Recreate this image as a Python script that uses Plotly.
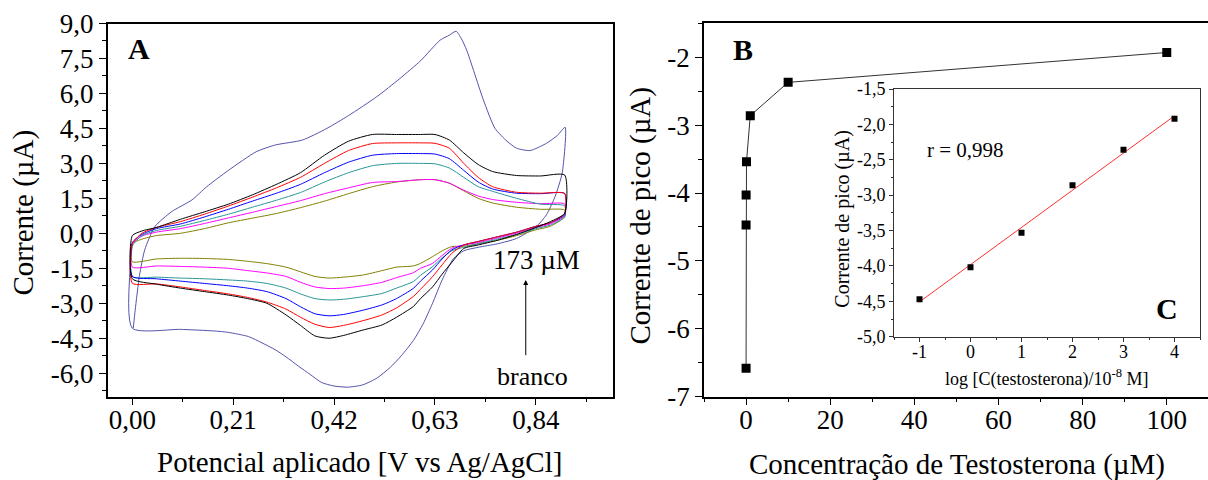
import numpy as np
import plotly.graph_objects as go

# ---------------- Panel A : cyclic voltammograms ----------------
E_fwd = [0, 0.02, 0.05, 0.1, 0.15, 0.2, 0.25, 0.3, 0.35, 0.4, 0.45, 0.5, 0.55,
         0.6, 0.63, 0.66, 0.69, 0.72, 0.75, 0.8, 0.85, 0.9]
E_rev = [0.9, 0.87, 0.84, 0.8, 0.76, 0.72, 0.69, 0.665, 0.645, 0.625, 0.6, 0.585,
         0.55, 0.52, 0.48, 0.44, 0.41, 0.38, 0.35, 0.32, 0.28, 0.24, 0.2, 0.15,
         0.1, 0.05, 0.0]

black_fwd = [-0.1, 0.1, 0.25, 0.6, 0.92, 1.25, 1.65, 2.1, 2.6, 3.35, 3.95, 4.24,
             4.24, 4.24, 4.24, 4.0, 3.45, 2.95, 2.65, 2.48, 2.46, 2.5]
black_rev = [0.86, 0.5, 0.25, -0.05, -0.3, -0.5, -0.65, -1.25, -1.75, -2.3, -2.8,
             -3.14, -3.6, -3.93, -4.15, -4.38, -4.5, -4.4, -3.95, -3.5, -3.0,
             -2.8, -2.65, -2.5, -2.35, -2.18, -1.95]
red_fwd = [-0.45, 0.0, 0.25, 0.5, 0.82, 1.17, 1.55, 1.95, 2.4, 3.0, 3.55, 3.85,
           3.88, 3.88, 3.86, 3.65, 3.0, 2.4, 2.0, 1.76, 1.72, 1.71]
red_rev = [0.85, 0.45, 0.3, 0.05, -0.15, -0.35, -0.5, -0.86, -1.35, -1.86, -2.4,
           -2.71, -3.2, -3.5, -3.75, -3.95, -4.04, -3.9, -3.6, -3.25, -2.95,
           -2.75, -2.6, -2.45, -2.3, -2.17, -2.14]
blue_fwd = [-0.4, -0.05, 0.2, 0.4, 0.7, 1.03, 1.38, 1.72, 2.1, 2.6, 3.05, 3.35,
            3.42, 3.42, 3.4, 3.2, 2.7, 2.2, 1.9, 1.72, 1.7, 1.71]
blue_rev = [0.8, 0.45, 0.3, 0.05, -0.15, -0.35, -0.5, -0.71, -1.1, -1.57, -2.05,
            -2.36, -2.8, -3.07, -3.3, -3.48, -3.54, -3.45, -3.15, -2.8, -2.5,
            -2.35, -2.25, -2.15, -2.05, -1.95, -1.85]
teal_fwd = [-0.55, -0.1, 0.12, 0.3, 0.55, 0.82, 1.12, 1.42, 1.75, 2.2, 2.6, 2.9,
            3.0, 3.0, 2.98, 2.8, 2.4, 2.0, 1.8, 1.5, 1.25, 1.18]
teal_rev = [0.7, 0.35, 0.2, -0.05, -0.25, -0.45, -0.6, -0.75, -1.05, -1.43, -1.8,
            -2.07, -2.35, -2.58, -2.72, -2.83, -2.86, -2.8, -2.6, -2.35, -2.15,
            -2.05, -2.0, -1.95, -1.92, -1.88, -1.86]
magenta_fwd = [-0.45, -0.12, 0.05, 0.2, 0.42, 0.66, 0.9, 1.15, 1.4, 1.7, 1.95,
               2.18, 2.22, 2.3, 2.3, 2.15, 1.85, 1.6, 1.45, 1.33, 1.27, 1.26]
magenta_rev = [0.75, 0.4, 0.25, 0.0, -0.2, -0.4, -0.5, -0.64, -0.95, -1.29, -1.5,
               -1.69, -1.9, -2.1, -2.25, -2.35, -2.37, -2.3, -2.1, -1.85, -1.7,
               -1.6, -1.5, -1.45, -1.42, -1.4, -1.45]
olive_fwd = [-0.45, -0.25, -0.1, 0.0, 0.2, 0.45, 0.65, 0.85, 1.1, 1.38, 1.7, 2.0,
             2.2, 2.3, 2.3, 2.15, 1.82, 1.5, 1.3, 1.12, 1.03, 1.0]
olive_rev = [0.7, 0.3, 0.15, -0.1, -0.3, -0.45, -0.55, -0.57, -0.75, -1.0, -1.29,
             -1.4, -1.45, -1.6, -1.79, -1.88, -1.92, -1.85, -1.65, -1.45, -1.3,
             -1.2, -1.12, -1.08, -1.07, -1.1, -1.22]

E_big_fwd = [0.002, 0.006, 0.015, 0.026, 0.047, 0.082, 0.124, 0.155, 0.2, 0.258,
             0.298, 0.354, 0.405, 0.45, 0.509, 0.557, 0.6, 0.641, 0.66, 0.674,
             0.685, 0.696, 0.731, 0.755, 0.78, 0.8, 0.828, 0.862, 0.885, 0.901]
I_big_fwd = [-4.07, -3.3, -1.8, -0.7, 0.29, 0.93, 1.43, 2.0, 2.7, 3.5, 3.79, 4.0,
             4.5, 5.05, 5.86, 6.64, 7.4, 8.29, 8.5, 8.67, 8.35, 7.86, 5.71, 4.5,
             3.95, 3.65, 3.55, 3.86, 4.2, 4.55]
E_big_rev = [0.895, 0.88, 0.862, 0.841, 0.8, 0.76, 0.72, 0.69, 0.668, 0.645,
             0.625, 0.605, 0.585, 0.56, 0.537, 0.51, 0.48, 0.449, 0.42, 0.394,
             0.37, 0.346, 0.32, 0.298, 0.27, 0.242, 0.2, 0.171, 0.1, 0.0, 0.0]
I_big_rev = [2.6, 1.57, 0.79, 0.29, -0.22, -0.45, -0.6, -0.75, -1.1, -2.0, -3.0,
             -3.9, -4.6, -5.25, -5.75, -6.2, -6.5, -6.6, -6.55, -6.4, -6.05, -5.7,
             -5.3, -5.0, -4.7, -4.43, -4.25, -4.19, -4.12, -4.07, -0.43]

A_xtick_vals = [0, 0.21, 0.42, 0.63, 0.84]
A_xtick_text = ["0,00", "0,21", "0,42", "0,63", "0,84"]
A_ytick_vals = [9, 7.5, 6, 4.5, 3, 1.5, 0, -1.5, -3, -4.5, -6]
A_ytick_text = ["9,0", "7,5", "6,0", "4,5", "3,0", "1,5", "0,0", "-1,5", "-3,0",
                "-4,5", "-6,0"]

# ---------------- Panel B : peak current vs concentration ----------------
conc_uM = [0, 0.001, 0.01, 0.1, 1, 10, 100]
ipeak_B = [-6.58, -4.47, -4.03, -3.54, -2.86, -2.37, -1.93]
B_xtick_vals = [0, 20, 40, 60, 80, 100]
B_xtick_text = ["0", "20", "40", "60", "80", "100"]
B_ytick_vals = [-2, -3, -4, -5, -6, -7]
B_ytick_text = ["-2", "-3", "-4", "-5", "-6", "-7"]

# ---------------- Panel C : calibration (inset) ----------------
logC = [-1, 0, 1, 2, 3, 4]
ipeak_C = [-4.47, -4.02, -3.53, -2.86, -2.36, -1.92]
C_xtick_vals = [-1, 0, 1, 2, 3, 4]
C_xtick_text = ["-1", "0", "1", "2", "3", "4"]
C_ytick_vals = [-1.5, -2.0, -2.5, -3.0, -3.5, -4.0, -4.5, -5.0]
C_ytick_text = ["-1,5", "-2,0", "-2,5", "-3,0", "-3,5", "-4,0", "-4,5", "-5,0"]

FONT = "Liberation Serif, Times New Roman, serif"
W, H = 1208, 480

def px(xp):
    return xp / W

def py(yp):
    return 1 - yp / H

fig = go.Figure()

cv_curves = [
    ("branco", E_big_fwd + E_big_rev, I_big_fwd + I_big_rev, "#5353ab"),
    ("olive", None, (olive_fwd, olive_rev), "#808000"),
    ("magenta", None, (magenta_fwd, magenta_rev), "#ff00ff"),
    ("teal", None, (teal_fwd, teal_rev), "#2a9595"),
    ("blue", None, (blue_fwd, blue_rev), "#0000ff"),
    ("red", None, (red_fwd, red_rev), "#ff0000"),
    ("black", None, (black_fwd, black_rev), "#000000"),
]
for name, xs, ys, col in cv_curves:
    if xs is None:
        f, r = ys
        xs = E_fwd + E_rev + [E_fwd[0]]
        ys = f + r + [f[0]]
    fig.add_trace(go.Scatter(x=xs, y=ys, mode="lines", name=name,
                             line=dict(color=col, width=1, shape="spline",
                                       smoothing=0.6),
                             xaxis="x", yaxis="y", showlegend=False))

fig.add_trace(go.Scatter(x=conc_uM, y=ipeak_B, mode="lines+markers",
                         line=dict(color="#333333", width=1),
                         marker=dict(symbol="square", size=9, color="black"),
                         xaxis="x2", yaxis="y2", showlegend=False))

slope, intercept = np.polyfit(logC, ipeak_C, 1)
fit_x = [min(logC), max(logC)]
fit_y = [slope * v + intercept for v in fit_x]
fig.add_trace(go.Scatter(x=fit_x, y=fit_y, mode="lines",
                         line=dict(color="#ff3030", width=1),
                         xaxis="x3", yaxis="y3", showlegend=False))
fig.add_trace(go.Scatter(x=logC, y=ipeak_C, mode="markers",
                         marker=dict(symbol="square", size=6, color="black"),
                         xaxis="x3", yaxis="y3", showlegend=False))

tickfont = dict(family=FONT, size=27, color="black")
axis_common = dict(showgrid=False, zeroline=False, linecolor="black",
                   linewidth=1.5, ticks="outside", tickwidth=1.3,
                   tickcolor="black", tickfont=tickfont, tickmode="array",
                   automargin=False)

fig.update_layout(
    template="none",
    width=W, height=H, autosize=False, margin=dict(l=0, r=0, t=0, b=0, pad=0),
    paper_bgcolor="white", plot_bgcolor="white",
    xaxis=dict(axis_common, domain=[px(107.7), px(612.7)], range=[-0.0512, 1.0],
               tickvals=A_xtick_vals, ticktext=A_xtick_text, ticklen=7,
               mirror=True, anchor="y", ticklabelstandoff=-9,
               minor=dict(dtick=0.105, tick0=0, ticks="outside", ticklen=4,
                          tickcolor="black", tickwidth=1.2)),
    yaxis=dict(axis_common, domain=[py(396.5), py(23.5)], range=[-7, 9],
               tickvals=A_ytick_vals, ticktext=A_ytick_text, ticklen=7,
               mirror=True, anchor="x",
               minor=dict(dtick=0.75, tick0=0, ticks="outside", ticklen=4,
                          tickcolor="black", tickwidth=1.2)),
    xaxis2=dict(axis_common, domain=[px(704), 1.0], range=[-10, 109.8],
                tickvals=B_xtick_vals, ticktext=B_xtick_text, ticklen=7,
                mirror=True, anchor="y2", ticklabelstandoff=-9,
                minor=dict(dtick=10, tick0=0, ticks="outside", ticklen=4,
                           tickcolor="black", tickwidth=1.2)),
    yaxis2=dict(axis_common, domain=[py(396.7), py(23.3)], range=[-7, -1.5],
                tickvals=B_ytick_vals, ticktext=B_ytick_text, ticklen=7,
                mirror=False, anchor="x2",
                minor=dict(dtick=0.5, tick0=0, ticks="outside", ticklen=4,
                           tickcolor="black", tickwidth=1.2)),
    xaxis3=dict(showgrid=False, zeroline=False, linecolor="#333333", linewidth=1,
                ticks="outside", ticklen=4, tickwidth=1, tickcolor="#333333",
                tickfont=dict(family=FONT, size=18, color="black"),
                tickmode="array", tickvals=C_xtick_vals, ticktext=C_xtick_text,
                domain=[px(894), px(1200)], range=[-1.5, 4.5], mirror=True,
                anchor="y3", automargin=False, ticklabelstandoff=-5,
                minor=dict(dtick=0.5, tick0=0, ticks="outside", ticklen=2.5,
                           tickcolor="#333333", tickwidth=1)),
    yaxis3=dict(showgrid=False, zeroline=False, linecolor="#333333", linewidth=1,
                ticks="outside", ticklen=4, tickwidth=1, tickcolor="#333333",
                tickfont=dict(family=FONT, size=18, color="black"),
                tickmode="array", tickvals=C_ytick_vals, ticktext=C_ytick_text,
                domain=[py(336.7), py(89)], range=[-5, -1.5], mirror=True,
                anchor="x3", automargin=False,
                minor=dict(dtick=0.25, tick0=0, ticks="outside", ticklen=2.5,
                           tickcolor="#333333", tickwidth=1)),
)

ann = []
def label(text, x, y, size, xref="paper", yref="paper", angle=0, bold=False):
    t = "<b>%s</b>" % text if bold else text
    ann.append(dict(text=t, x=x, y=y, xref=xref, yref=yref, showarrow=False,
                    xanchor="center", yanchor="middle", textangle=angle,
                    font=dict(family=FONT, size=size, color="black")))

# axis titles
label("Potencial aplicado [V vs Ag/AgCl]", px(359), py(461.7), 29)
label("Corrente (µA)", px(23), py(212.5), 29, angle=-90)
label("Concentração de Testosterona (µM)", px(956.5), py(464.5), 29)
label("Corrente de pico (µA)", px(640), py(216.5), 29, angle=-90)
label("log [C(testosterona)/10<sup>-8</sup> M]", px(1046.7), py(377.7), 18)
label("Corrente de pico (µA)", px(841.7), py(219), 20, angle=-90)
# panel letters & texts
label("A", px(138.8), py(48.8), 30, bold=True)
label("B", px(742.5), py(50), 30, bold=True)
label("C", px(1167), py(308), 30, bold=True)
label("r = 0,998", px(965), py(150), 21)
label("173 µM", px(536.7), py(260), 27)
label("branco", px(532.5), py(376.7), 26)

ann.append(dict(x=0.819, y=-2.0, xref="x", yref="y", ax=0.819, ay=-5.29,
                axref="x", ayref="y", text="", showarrow=True, arrowhead=2,
                arrowsize=1, arrowwidth=1, arrowcolor="black"))

fig.update_layout(annotations=ann)
fig.write_html("out.html")
